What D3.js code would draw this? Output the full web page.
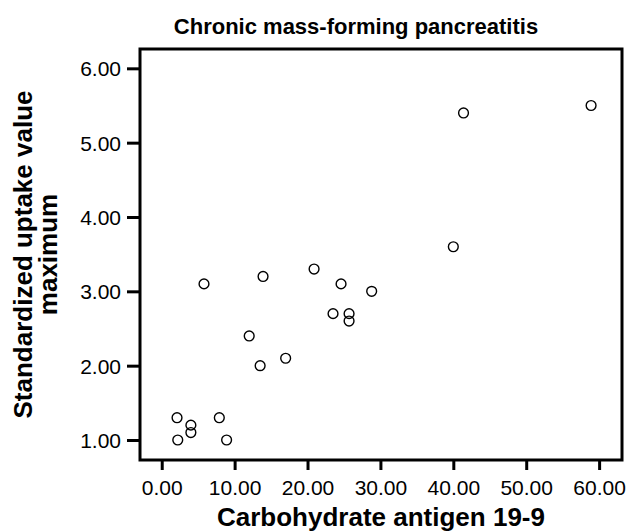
<!DOCTYPE html>
<html><head><meta charset="utf-8">
<script src="https://cdn.jsdelivr.net/npm/d3@7/dist/d3.min.js"></script>
<style>body{margin:0;background:#fff;} text{font-family:"Liberation Sans",Arial,sans-serif;}</style>
</head><body>
<svg id="chart" width="626" height="531"></svg>
<script>
const ca199 = [2.1, 2.2, 4.0, 4.0, 7.9, 8.9, 5.8, 13.9, 12.0, 13.5, 17.0, 20.9, 24.6, 28.8, 23.5, 25.7, 25.7, 41.4, 58.9, 40.0];
const suvmax = [1.3, 1.0, 1.2, 1.1, 1.3, 1.0, 3.1, 3.2, 2.4, 2.0, 2.1, 3.3, 3.1, 3.0, 2.7, 2.7, 2.6, 5.4, 5.5, 3.6];
const xTicks = [0, 10, 20, 30, 40, 50, 60];
const yTicks = [1, 2, 3, 4, 5, 6];
const title = "Chronic mass-forming pancreatitis";
const xLabel = "Carbohydrate antigen 19-9";
const yLabel = ["Standardized uptake value", "maximum"];

const svg = d3.select("#chart");
const L = 140, R = 622, T = 49, B = 460;
const x = d3.scaleLinear().domain([-2.98, 63.14]).range([L, R]);
const y = d3.scaleLinear().domain([0.731, 6.26]).range([B, T]);

svg.append("rect").attr("x", L).attr("y", T).attr("width", R - L).attr("height", B - T)
  .attr("fill", "none").attr("stroke", "#000").attr("stroke-width", 3);

const xa = svg.append("g").attr("transform", `translate(0,${B})`)
  .call(d3.axisBottom(x).tickValues(xTicks).tickSize(10).tickPadding(10).tickFormat(d3.format(".2f")));
const ya = svg.append("g").attr("transform", `translate(${L},0)`)
  .call(d3.axisLeft(y).tickValues(yTicks).tickSize(13).tickPadding(6).tickFormat(d3.format(".2f")));
[xa, ya].forEach(a => {
  a.select(".domain").remove();
  a.selectAll(".tick line").attr("stroke", "#000").attr("stroke-width", 3);
  a.selectAll(".tick text").attr("fill", "#000").style("font-size", "21px")
    .style("font-family", '"Liberation Sans",Arial,sans-serif');
});
ya.selectAll(".tick text").attr("dy", "0.36em");

svg.append("g").selectAll("circle").data(ca199.map((d, i) => [d, suvmax[i]])).join("circle")
  .attr("cx", d => x(d[0])).attr("cy", d => y(d[1])).attr("r", 4.9)
  .attr("fill", "none").attr("stroke", "#000").attr("stroke-width", 1.4);

svg.append("text").attr("x", 356).attr("y", 34).attr("text-anchor", "middle")
  .style("font-size", "22px").style("font-weight", "bold").text(title);
svg.append("text").attr("x", (L + R) / 2).attr("y", 526).attr("text-anchor", "middle")
  .style("font-size", "26px").style("font-weight", "bold").text(xLabel);
yLabel.forEach((t, i) => {
  svg.append("text").attr("transform", `translate(${32 + i * 25},${(T + B) / 2}) rotate(-90)`)
    .attr("text-anchor", "middle").style("font-size", "26px").style("font-weight", "bold").text(t);
});
</script>
</body></html>
